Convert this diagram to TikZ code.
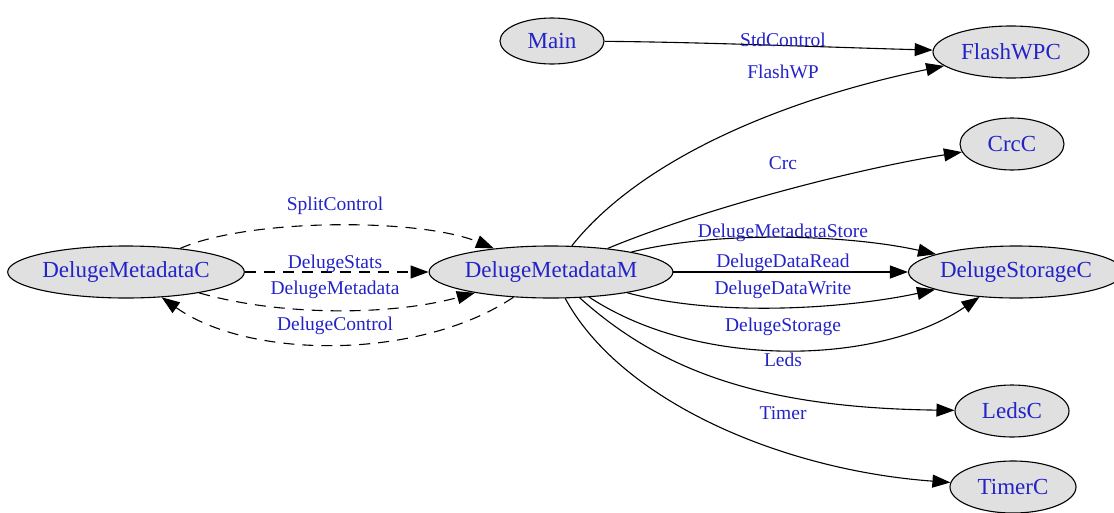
\documentclass[tikz,border=0pt]{standalone}
\usepackage{fontspec}
\setmainfont{Liberation Serif}
\usetikzlibrary{arrows.meta,shapes.geometric}
\definecolor{lblblue}{RGB}{35,35,200}
\definecolor{nodefill}{RGB}{224,224,224}
\begin{document}
\begin{tikzpicture}[x=1pt,y=-1pt,
  comp/.style={ellipse, draw=black, line width=1.1pt, fill=nodefill, inner sep=0pt,
    text=lblblue, font=\fontsize{23}{26}\selectfont},
  wire/.style={draw=black, line width=1.1pt, -{Triangle[length=18pt,width=13pt]}},
  dwire/.style={wire, dash pattern=on 11pt off 8pt},
  elabel/.style={text=lblblue, font=\fontsize{19.5}{22}\selectfont, inner sep=0pt}]
\useasboundingbox (0,0) rectangle (1114,512);

% components
\node[comp, minimum width=104pt, minimum height=46pt] (Main) at (552,41) {Main};
\node[comp, minimum width=156pt, minimum height=52pt] (FlashWPC) at (1011,52) {FlashWPC};
\node[comp, minimum width=104pt, minimum height=52pt] (CrcC) at (1012,144) {CrcC};
\node[comp, minimum width=194pt, minimum height=52pt] (Storage) at (1016,272) {DelugeStorageC};
\node[comp, minimum width=114pt, minimum height=52pt] (LedsC) at (1012,411) {LedsC};
\node[comp, minimum width=126pt, minimum height=52pt] (TimerC) at (1013,487) {TimerC};
\node[comp, minimum width=236pt, minimum height=52pt] (MetaM) at (551,272) {DelugeMetadataM};
\node[comp, minimum width=232pt, minimum height=52pt] (MetaC) at (126,272) {DelugeMetadataC};

% wires from DelugeMetadataM
\draw[wire] (Main) .. controls (700,42) and (850,48) .. (FlashWPC);
\draw[wire] (MetaM) .. controls (640,160) and (780,100) .. (FlashWPC);
\draw[wire] (MetaM) .. controls (700,210) and (850,170) .. (CrcC);
\draw[wire] (MetaM) .. controls (720,230) and (850,235) .. (Storage);
\draw[wire] (MetaM) -- (Storage);
\draw[wire] (MetaM) .. controls (720,318) and (850,308) .. (Storage);
\draw[wire] (MetaM) .. controls (700,370) and (880,365) .. (Storage);
\draw[wire] (MetaM) .. controls (660,370) and (760,408) .. (LedsC);
\draw[wire] (MetaM) .. controls (620,400) and (780,470) .. (TimerC);

% dashed wires between the two metadata components
\draw[dwire] (MetaC) .. controls (250,218) and (420,218) .. (MetaM);
\draw[dwire] (MetaC) -- (MetaM);
\draw[dwire] (MetaC) .. controls (280,316) and (390,316) .. (MetaM);
\draw[dwire] (MetaM) .. controls (420,360) and (250,360) .. (MetaC);

% interface labels
\node[elabel] (lStd) at (783,40) {StdControl};
\node[elabel] (lFlash) at (783,72) {FlashWP};
\node[elabel] (lCrc) at (783,163) {Crc};
\node[elabel] (lStore) at (783,233) {DelugeMetadataStore};
\node[elabel] (lRead) at (783,263) {DelugeDataRead};
\node[elabel] (lWrite) at (783,290) {DelugeDataWrite};
\node[elabel] (lStorage) at (783,327) {DelugeStorage};
\node[elabel] (lLeds) at (783,360) {Leds};
\node[elabel] (lTimer) at (783,413) {Timer};
\node[elabel] (lSplit) at (335,206) {SplitControl};
\node[elabel] (lStats) at (335,264) {DelugeStats};
\node[elabel] (lMeta) at (335,290) {DelugeMetadata};
\node[elabel] (lCtrl) at (335,326) {DelugeControl};
\end{tikzpicture}
\end{document}
